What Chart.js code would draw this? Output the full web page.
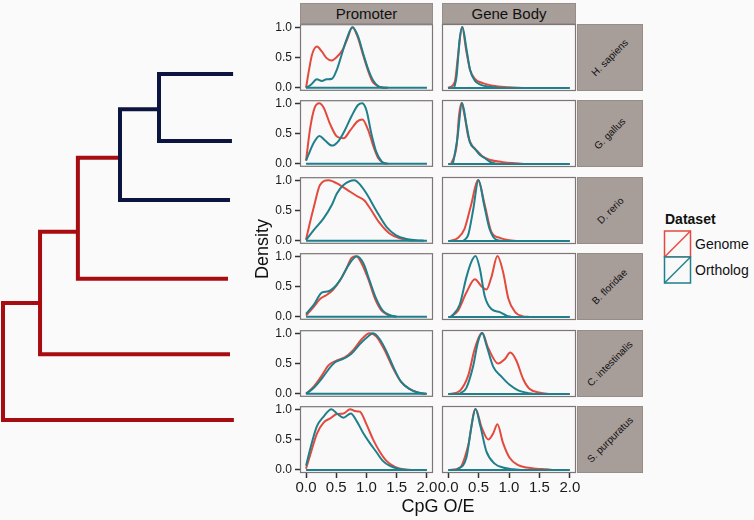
<!DOCTYPE html>
<html>
<head>
<meta charset="utf-8">
<script src="https://cdn.jsdelivr.net/npm/chart.js@4.4.1/dist/chart.umd.min.js"></script>
<style>
body { margin: 0; background: #fbfafb; }
#fig { position: relative; width: 754px; height: 520px; overflow: hidden; font-family: "Liberation Sans", Arial, sans-serif; color: #111; }
#fig canvas { position: absolute; }
.strip { position: absolute; background: #a79d99; border: 1px solid #968c88; box-sizing: border-box; display: flex; align-items: center; justify-content: center; }
.txt { position: absolute; white-space: nowrap; }
</style>
</head>
<body>
<div id="fig"></div>
<script>
// facets
var species = ['H. sapiens', 'G. gallus', 'D. rerio', 'B. floridae', 'C. intestinalis', 'S. purpuratus'];
var regions = ['Promoter', 'Gene Body'];
var xTicks = [0, 0.5, 1, 1.5, 2];
var yTicks = [0, 0.5, 1];

// density curves, [CpG O/E, scaled density], one list per species
var genomePromoter = [
  [[0,0],[0.05,0.3],[0.1,0.55],[0.18,0.68],[0.26,0.6],[0.34,0.49],[0.42,0.45],[0.5,0.5],[0.6,0.62],[0.68,0.8],[0.765,1.0],[0.85,0.85],[0.95,0.52],[1.03,0.27],[1.1,0.1],[1.18,0.03],[1.25,0.005],[1.35,0]],
  [[0,0.05],[0.07,0.6],[0.14,0.92],[0.22,1.0],[0.29,0.93],[0.4,0.65],[0.51,0.45],[0.62,0.42],[0.73,0.55],[0.85,0.7],[0.93,0.73],[1.03,0.55],[1.11,0.3],[1.19,0.1],[1.27,0.02],[1.36,0]],
  [[0,0.02],[0.06,0.28],[0.13,0.56],[0.23,0.92],[0.37,1.0],[0.56,0.92],[0.73,0.81],[0.84,0.74],[0.97,0.66],[1.05,0.55],[1.22,0.29],[1.38,0.12],[1.55,0.04],[1.7,0.01],[1.8,0]],
  [[0,0.02],[0.13,0.17],[0.24,0.3],[0.34,0.36],[0.45,0.45],[0.56,0.6],[0.67,0.8],[0.75,0.97],[0.83,1.0],[0.92,0.88],[1.03,0.62],[1.14,0.3],[1.25,0.1],[1.36,0.03],[1.48,0]],
  [[0,0],[0.13,0.12],[0.26,0.3],[0.37,0.47],[0.51,0.55],[0.64,0.6],[0.78,0.72],[0.92,0.9],[1.05,1.0],[1.16,0.95],[1.3,0.72],[1.44,0.42],[1.57,0.2],[1.71,0.08],[1.85,0.02],[1.98,0]],
  [[0,0.02],[0.07,0.25],[0.18,0.6],[0.29,0.78],[0.4,0.85],[0.51,0.92],[0.62,0.93],[0.73,1.0],[0.81,0.97],[0.89,0.96],[1.0,0.75],[1.11,0.5],[1.22,0.3],[1.33,0.15],[1.47,0.05],[1.6,0.01],[1.75,0]]
];
var orthologPromoter = [
  [[0,0],[0.08,0.05],[0.18,0.14],[0.26,0.11],[0.34,0.14],[0.43,0.15],[0.51,0.3],[0.59,0.55],[0.67,0.8],[0.77,1.0],[0.86,0.85],[0.95,0.55],[1.03,0.3],[1.11,0.12],[1.19,0.03],[1.27,0.005],[1.35,0]],
  [[0,0.05],[0.04,0.15],[0.13,0.35],[0.22,0.46],[0.32,0.38],[0.43,0.3],[0.54,0.38],[0.64,0.55],[0.75,0.78],[0.86,0.97],[0.93,1.0],[1.0,0.88],[1.08,0.5],[1.16,0.2],[1.25,0.04],[1.33,0]],
  [[0,0.01],[0.13,0.18],[0.29,0.37],[0.43,0.6],[0.51,0.78],[0.62,0.92],[0.8,1.0],[0.9,0.92],[1.0,0.78],[1.16,0.5],[1.33,0.23],[1.49,0.09],[1.66,0.03],[1.82,0.01],[1.95,0]],
  [[0,0.05],[0.13,0.2],[0.26,0.4],[0.37,0.42],[0.48,0.5],[0.59,0.65],[0.7,0.85],[0.84,1.0],[0.95,0.88],[1.05,0.6],[1.16,0.3],[1.27,0.1],[1.38,0.03],[1.5,0]],
  [[0,0],[0.13,0.1],[0.26,0.25],[0.37,0.4],[0.48,0.52],[0.62,0.58],[0.75,0.66],[0.89,0.82],[1.03,0.95],[1.11,1.0],[1.22,0.9],[1.33,0.7],[1.44,0.45],[1.57,0.2],[1.71,0.08],[1.85,0.02],[1.98,0]],
  [[0,0.07],[0.07,0.35],[0.18,0.72],[0.29,0.88],[0.42,1.0],[0.51,0.93],[0.62,0.86],[0.74,0.93],[0.84,0.8],[0.95,0.6],[1.05,0.45],[1.16,0.3],[1.27,0.15],[1.38,0.07],[1.52,0.02],[1.7,0]]
];
var genomeBody = [
  [[0,0],[0.11,0.1],[0.16,0.5],[0.23,1.0],[0.3,0.6],[0.36,0.3],[0.44,0.15],[0.57,0.08],[0.79,0.03],[1.0,0.01],[1.23,0]],
  [[0.05,0],[0.14,0.3],[0.18,0.8],[0.22,1.0],[0.27,0.8],[0.33,0.45],[0.41,0.28],[0.49,0.2],[0.57,0.12],[0.68,0.07],[0.9,0.03],[1.12,0.01],[1.25,0]],
  [[0.03,0],[0.16,0.05],[0.27,0.2],[0.38,0.6],[0.49,1.0],[0.6,0.6],[0.71,0.15],[0.85,0.05],[1.01,0.01],[1.12,0]],
  [[0.03,0],[0.16,0.1],[0.3,0.4],[0.44,0.62],[0.55,0.5],[0.63,0.45],[0.71,0.65],[0.81,1.0],[0.9,0.75],[0.99,0.3],[1.1,0.08],[1.23,0.01],[1.34,0]],
  [[0.03,0],[0.19,0.05],[0.33,0.3],[0.44,0.75],[0.56,1.0],[0.66,0.75],[0.82,0.5],[0.93,0.57],[1.02,0.68],[1.12,0.55],[1.23,0.25],[1.34,0.08],[1.51,0.02],[1.68,0]],
  [[0.03,0],[0.19,0.03],[0.33,0.4],[0.45,1.0],[0.55,0.7],[0.66,0.5],[0.74,0.6],[0.81,0.75],[0.9,0.45],[1.01,0.2],[1.15,0.08],[1.29,0.04],[1.45,0.02],[1.62,0.01],[1.72,0]]
];
var orthologBody = [
  [[0.1,0],[0.14,0.2],[0.19,0.8],[0.235,1.0],[0.3,0.65],[0.36,0.3],[0.44,0.12],[0.52,0.06],[0.68,0.02],[0.9,0]],
  [[0.08,0],[0.15,0.4],[0.23,1.0],[0.3,0.65],[0.36,0.35],[0.44,0.25],[0.52,0.15],[0.6,0.1],[0.68,0.04],[0.79,0]],
  [[0.25,0],[0.33,0.1],[0.41,0.5],[0.5,1.0],[0.59,0.6],[0.68,0.2],[0.79,0.02],[0.9,0]],
  [[0.05,0],[0.19,0.2],[0.3,0.65],[0.38,0.9],[0.45,1.0],[0.52,0.8],[0.6,0.35],[0.71,0.13],[0.85,0.08],[0.96,0.02],[1.04,0]],
  [[0.19,0],[0.3,0.1],[0.41,0.45],[0.49,0.85],[0.56,1.0],[0.63,0.8],[0.74,0.45],[0.88,0.28],[1.01,0.15],[1.15,0.06],[1.29,0.02],[1.4,0]],
  [[0.14,0],[0.3,0.2],[0.38,0.7],[0.45,1.0],[0.53,0.72],[0.63,0.3],[0.77,0.1],[0.9,0.04],[1.07,0.01],[1.2,0]]
];

// tree: leaves in species order, depth along x, position along y
var leafDepth = [5.9, 5.87, 5.82, 5.77, 5.82, 5.92];
var leafPos = [0, 0.97, 1.82, 2.96, 4.05, 5.0];
// internal nodes, children are leaf index (number) or node name
var nodeName = ['vert', 'chord', 'bila', 'deut', 'root'];
var nodeDepth = [4.0, 3.0, 1.92, 0.95, 0];
var nodePos = [0.51, 1.21, 2.28, 3.31, 4.2];
var nodeKids = [[0, 1], ['vert', 2], ['chord', 3], ['bila', 4], ['deut', 5]];
var nodeColor = ['#0c1440', '#0c1440', '#a60c10', '#a60c10', '#a60c10'];

var RED = '#e4493d', TEAL = '#1f7f8b';
var panelLeft = [300, 442], panelW = [133, 134];
var rowTop = [24, 100, 177, 253, 330, 406], panelH = 67;

var fig = document.getElementById('fig');

function addCanvas(left, top, w, h) {
  var cv = document.createElement('canvas');
  cv.width = w; cv.height = h;
  cv.style.left = left + 'px'; cv.style.top = top + 'px';
  cv.style.width = w + 'px'; cv.style.height = h + 'px';
  fig.appendChild(cv);
  return cv;
}
function addText(txt, css) {
  var d = document.createElement('div');
  d.className = 'txt';
  d.textContent = txt;
  d.style.cssText += css;
  fig.appendChild(d);
  return d;
}
function pts(list) {
  return list.map(function(p) { return {x: p[0], y: p[1]}; });
}

var panelFrame = {
  id: 'panelFrame',
  beforeDatasetsDraw: function(chart) {
    var a = chart.chartArea, ctx = chart.ctx;
    ctx.save();
    ctx.fillStyle = '#faf9fa';
    ctx.fillRect(a.left, a.top, a.width, a.height);
    ctx.restore();
  },
  afterDatasetsDraw: function(chart) {
    var a = chart.chartArea, ctx = chart.ctx;
    ctx.save();
    ctx.strokeStyle = '#7c7676';
    ctx.lineWidth = 1.2;
    ctx.strokeRect(a.left + 0.5, a.top + 0.5, a.width - 1, a.height - 1);
    ctx.restore();
  }
};

function drawPanel(r, c) {
  var showY = c === 0, showX = r === 5;
  var yW = showY ? 40 : 0, xH = showX ? 26 : 0;
  var padL = showY ? 0 : 14, padR = 14, padT = 10, padB = showX ? 0 : 10;
  var cv = addCanvas(panelLeft[c] - padL - yW, rowTop[r] - padT,
    padL + yW + panelW[c] + padR, padT + panelH + xH + padB);
  var g = c === 0 ? genomePromoter : genomeBody;
  var o = c === 0 ? orthologPromoter : orthologBody;
  var tickGrid = {drawOnChartArea: false, drawTicks: true, tickLength: 5, tickColor: '#333', tickWidth: 1.5};
  new Chart(cv, {
    type: 'line',
    data: {
      datasets: [
        {label: 'base', data: [{x: 0, y: 0}, {x: 2, y: 0}], borderColor: TEAL, order: 0, cubicInterpolationMode: 'default', tension: 0},
        {label: 'Ortholog', data: pts(o[r]), borderColor: TEAL, order: 1},
        {label: 'Genome', data: pts(g[r]), borderColor: RED, order: 2}
      ]
    },
    options: {
      responsive: false, animation: false, events: [],
      layout: {padding: {left: padL, right: padR, top: padT, bottom: padB}},
      elements: {
        point: {radius: 0},
        line: {borderWidth: 2, fill: false, cubicInterpolationMode: 'monotone'}
      },
      plugins: {legend: {display: false}, tooltip: {enabled: false}},
      scales: {
        x: {
          type: 'linear', min: -0.1, max: 2.1, display: showX,
          afterBuildTicks: function(s) { s.ticks = xTicks.map(function(v) { return {value: v}; }); },
          afterFit: function(s) { s.height = xH; },
          grid: tickGrid, border: {display: false},
          ticks: {padding: 1, color: '#1a1a1a', maxRotation: 0, autoSkip: false,
            font: {family: 'Liberation Sans', size: 15},
            callback: function(v) { return v.toFixed(1); }}
        },
        y: {
          type: 'linear', min: -0.05, max: 1.05, display: showY,
          afterBuildTicks: function(s) { s.ticks = yTicks.map(function(v) { return {value: v}; }); },
          afterFit: function(s) { s.width = yW; },
          grid: tickGrid, border: {display: false},
          ticks: {padding: 3, color: '#1a1a1a', autoSkip: false,
            font: {family: 'Liberation Sans', size: 12},
            callback: function(v) { return v.toFixed(1); }}
        }
      }
    },
    plugins: [panelFrame]
  });
}

for (var r = 0; r < species.length; r++) {
  for (var c = 0; c < regions.length; c++) drawPanel(r, c);
  // right strip
  var s = document.createElement('div');
  s.className = 'strip';
  s.style.left = '577px'; s.style.top = rowTop[r] + 'px';
  s.style.width = '66px'; s.style.height = panelH + 'px';
  var sp = document.createElement('span');
  sp.textContent = species[r];
  sp.style.cssText = 'font-size:10px;transform:rotate(-45deg);white-space:nowrap;';
  s.appendChild(sp);
  fig.appendChild(s);
}
regions.forEach(function(name, c) {
  var s = document.createElement('div');
  s.className = 'strip';
  s.style.left = panelLeft[c] + 'px'; s.style.top = '3px';
  s.style.width = panelW[c] + 'px'; s.style.height = '21px';
  s.style.fontSize = '15px';
  s.textContent = name;
  fig.appendChild(s);
});

// tree
function nodeXY(k) {
  if (typeof k === 'number') return {x: leafDepth[k], y: leafPos[k]};
  var i = nodeName.indexOf(k);
  return {x: nodeDepth[i], y: nodePos[i]};
}
var treeSets = nodeName.map(function(n, i) {
  var a = nodeXY(nodeKids[i][0]), b = nodeXY(nodeKids[i][1]);
  return {
    data: [{x: a.x, y: a.y}, {x: nodeDepth[i], y: a.y}, {x: nodeDepth[i], y: b.y}, {x: b.x, y: b.y}],
    borderColor: nodeColor[i], borderWidth: 4, tension: 0,
    borderJoinStyle: 'miter', borderCapStyle: 'butt', pointRadius: 0, clip: false
  };
});
new Chart(addCanvas(0, 0, 250, 470), {
  type: 'line',
  data: {datasets: treeSets},
  options: {
    responsive: false, animation: false, events: [],
    layout: {padding: {left: 3, right: 13, top: 74, bottom: 50}},
    plugins: {legend: {display: false}, tooltip: {enabled: false}},
    scales: {
      x: {type: 'linear', min: 0, max: 6, display: false},
      y: {type: 'linear', min: 0, max: 5, reverse: true, display: false}
    }
  }
});

// axis titles
addText('Density', 'left:212px;top:238px;width:100px;text-align:center;font-size:18px;line-height:22px;transform:rotate(-90deg);');
addText('CpG O/E', 'left:338px;top:495px;width:200px;text-align:center;font-size:18px;line-height:22px;');

// legend
addText('Dataset', 'left:665px;top:211px;font-size:14px;font-weight:bold;line-height:17px;');
var keySvg = '<svg width="30" height="56" style="position:absolute;left:663px;top:230px">' +
  '<rect x="1.5" y="1" width="26" height="26" fill="#faf9fa" stroke="' + RED + '" stroke-width="1.5"/>' +
  '<line x1="1.5" y1="27" x2="27.5" y2="1" stroke="' + RED + '" stroke-width="1.5"/>' +
  '<rect x="1.5" y="27" width="26" height="26" fill="#faf9fa" stroke="' + TEAL + '" stroke-width="1.5"/>' +
  '<line x1="1.5" y1="53" x2="27.5" y2="27" stroke="' + TEAL + '" stroke-width="1.5"/></svg>';
fig.insertAdjacentHTML('beforeend', keySvg);
addText('Genome', 'left:695px;top:236px;font-size:14px;line-height:17px;');
addText('Ortholog', 'left:695px;top:262px;font-size:14px;line-height:17px;');
</script>
</body>
</html>
